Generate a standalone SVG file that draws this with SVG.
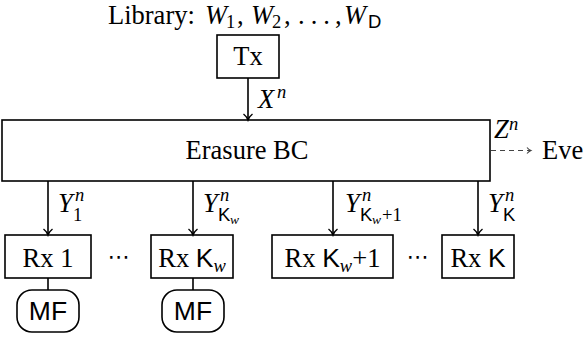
<svg xmlns="http://www.w3.org/2000/svg" width="584" height="342" viewBox="0 0 584 342">
<style>
.t{font-family:"Liberation Serif","Times New Roman",serif;font-size:26.5px;fill:#000}
.i{font-style:italic}
.sf{font-family:"Liberation Sans",Arial,sans-serif}
.s{font-size:18.5px}
.ss{font-size:13.5px}
.box{fill:#fff;stroke:#000;stroke-width:1.6}
.ln{fill:none;stroke:#000;stroke-width:1.6}
.dash{fill:none;stroke:#444;stroke-width:1.1;stroke-dasharray:5 4}
.dots{font-family:"DejaVu Sans",sans-serif;font-size:22px}
</style>
<defs>
<marker id="ah" viewBox="-8 -6 10 12" refX="0" refY="0" markerWidth="10" markerHeight="12" markerUnits="userSpaceOnUse" orient="auto">
<path d="M-6,-4.5 C-4,-2 -1.5,-0.5 0,0 C-1.5,0.5 -4,2 -6,4.5" fill="none" stroke="#000" stroke-width="1.4"/>
</marker>
<marker id="ahs" viewBox="-8 -6 10 12" refX="0" refY="0" markerWidth="10" markerHeight="12" markerUnits="userSpaceOnUse" orient="auto">
<path d="M-4,-3 C-2.7,-1.4 -1,-0.4 0,0 C-1,0.4 -2.7,1.4 -4,3" fill="none" stroke="#444" stroke-width="1.1"/>
</marker>
</defs>

<g id="library">
<text class="t" y="24"><tspan x="108">Library: </tspan><tspan x="205" class="i">W</tspan><tspan x="226" y="28" class="s">1</tspan><tspan x="237" y="24">,</tspan><tspan x="251" class="i">W</tspan><tspan x="272" y="28" class="s">2</tspan><tspan x="284" y="24">,</tspan><tspan x="298" letter-spacing="6">...</tspan><tspan x="335">,</tspan><tspan x="344" class="i">W</tspan><tspan x="368" y="28" class="s sf">D</tspan></text>
</g>

<g id="tx">
<rect class="box" x="217" y="35" width="62" height="43"/>
<text class="t" x="248" y="65" text-anchor="middle">Tx</text>
</g>

<g id="bc">
<rect class="box" x="2" y="120" width="488" height="61"/>
<text class="t" x="247" y="159" text-anchor="middle">Erasure BC</text>
</g>

<g id="eve">
<text class="t" x="542" y="159">Eve</text>
</g>

<g id="rx1">
<rect class="box" x="5" y="235" width="86" height="43"/>
<text class="t" x="48" y="267" text-anchor="middle">Rx 1</text>
</g>
<g id="rxkw">
<rect class="box" x="151" y="235" width="82" height="43"/>
<text class="t" x="192" y="267" text-anchor="middle">Rx <tspan class="sf">K</tspan><tspan class="s i" dy="5">w</tspan></text>
</g>
<g id="rxkw1">
<rect class="box" x="272" y="235" width="121" height="43"/>
<text class="t" x="332.5" y="267" text-anchor="middle">Rx <tspan class="sf">K</tspan><tspan class="s i" dy="5">w</tspan><tspan dy="-5">+1</tspan></text>
</g>
<g id="rxk">
<rect class="box" x="442" y="235" width="72" height="43"/>
<text class="t" x="478" y="267" text-anchor="middle">Rx <tspan class="sf">K</tspan></text>
</g>

<g id="mf1">
<rect class="box" x="17" y="290" width="62" height="42" rx="15" ry="15"/>
<text class="t sf" x="48" y="320" text-anchor="middle" font-size="25">MF</text>
</g>
<g id="mf2">
<rect class="box" x="162" y="290" width="62" height="42" rx="15" ry="15"/>
<text class="t sf" x="193" y="320" text-anchor="middle" font-size="25">MF</text>
</g>

<g id="dots">
<text class="dots" x="118.5" y="264" text-anchor="middle">⋯</text>
<text class="dots" x="417.5" y="264" text-anchor="middle">⋯</text>
</g>

<g id="connectors">
<line class="ln" x1="248" y1="78" x2="248" y2="120" marker-end="url(#ah)"/>
<line class="ln" x1="48" y1="181" x2="48" y2="235" marker-end="url(#ah)"/>
<line class="ln" x1="193" y1="181" x2="193" y2="235" marker-end="url(#ah)"/>
<line class="ln" x1="333" y1="181" x2="333" y2="235" marker-end="url(#ah)"/>
<line class="ln" x1="478" y1="181" x2="478" y2="235" marker-end="url(#ah)"/>
<line class="ln" x1="48" y1="278" x2="48" y2="290"/>
<line class="ln" x1="193" y1="278" x2="193" y2="290"/>
<line class="dash" x1="491" y1="150.5" x2="531" y2="150.5" marker-end="url(#ahs)"/>
<text class="t" y="108"><tspan x="258" class="i">X</tspan><tspan x="277" y="98" class="s i">n</tspan></text>
<text class="t" y="138"><tspan x="494" class="i">Z</tspan><tspan x="509" y="130" class="s i">n</tspan></text>
<text class="t" y="212"><tspan x="58" class="i">Y</tspan><tspan x="75" y="201" class="s i">n</tspan><tspan x="73" y="221" class="s">1</tspan></text>
<text class="t" y="212"><tspan x="203" class="i">Y</tspan><tspan x="220" y="201" class="s i">n</tspan><tspan x="218" y="221" class="s sf">K</tspan><tspan x="230" y="224" class="ss i">w</tspan></text>
<text class="t" y="212"><tspan x="345" class="i">Y</tspan><tspan x="362" y="201" class="s i">n</tspan><tspan x="360" y="221" class="s sf">K</tspan><tspan x="372" y="224" class="ss i">w</tspan><tspan x="382" y="221" class="s">+1</tspan></text>
<text class="t" y="212"><tspan x="488" class="i">Y</tspan><tspan x="505" y="201" class="s i">n</tspan><tspan x="503" y="221" class="s sf">K</tspan></text>
</g>
</svg>
